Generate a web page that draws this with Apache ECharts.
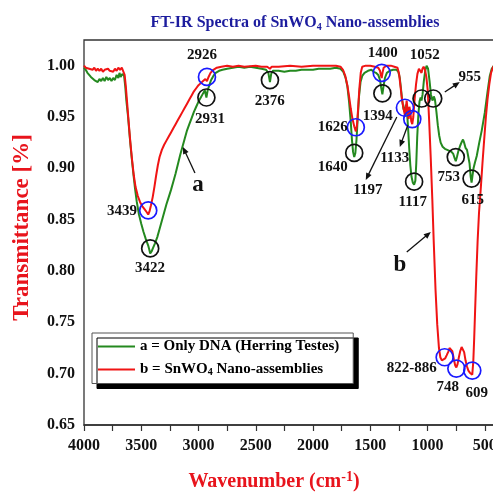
<!DOCTYPE html>
<html>
<head>
<meta charset="utf-8">
<script src="https://cdn.jsdelivr.net/npm/echarts@6/dist/echarts.min.js"></script>
<style>
  html, body { margin: 0; padding: 0; background: #fff; }
  #chart { width: 493px; height: 492px; }
</style>
</head>
<body>
<div id="chart"></div>
<script>
const SERIF = '"Liberation Serif", "Times New Roman", serif';

// Wavenumber (cm-1), transmittance pairs
const dnaSpectrum = [
  [4000,0.998],[3985,0.996],[3970,0.993],[3955,0.992],[3940,0.989],[3925,0.990],[3910,0.986],[3895,0.987],
  [3880,0.984],[3865,0.987],[3850,0.985],[3835,0.988],[3820,0.985],[3805,0.989],[3790,0.986],[3775,0.988],
  [3760,0.985],[3745,0.988],[3730,0.986],[3715,0.991],[3700,0.988],[3690,0.993],[3680,0.989],[3665,0.992],
  [3650,0.990],[3640,0.980],[3630,0.966],[3615,0.950],[3600,0.930],[3585,0.912],[3570,0.896],[3555,0.881],
  [3540,0.868],[3520,0.855],[3500,0.846],[3480,0.838],[3460,0.831],[3440,0.825],[3430,0.821],[3422,0.817],
  [3410,0.819],[3395,0.823],[3380,0.827],[3360,0.833],[3340,0.841],[3320,0.849],[3300,0.857],[3280,0.865],
  [3260,0.872],[3240,0.879],[3220,0.887],[3200,0.895],[3180,0.904],[3160,0.913],[3140,0.921],[3120,0.929],
  [3100,0.937],[3080,0.943],[3060,0.949],[3040,0.955],[3020,0.960],[3000,0.965],[2980,0.969],[2960,0.973],
  [2945,0.976],[2931,0.969],[2920,0.976],[2905,0.981],[2890,0.986],[2870,0.990],[2850,0.993],[2820,0.995],
  [2790,0.996],[2750,0.997],[2700,0.998],[2650,0.999],[2600,0.998],[2550,0.999],[2500,0.998],[2450,0.997],
  [2410,0.996],[2390,0.993],[2376,0.984],[2365,0.992],[2350,0.995],[2300,0.995],[2250,0.994],[2200,0.995],
  [2150,0.995],[2100,0.996],[2050,0.996],[2000,0.996],[1950,0.997],[1900,0.997],[1850,0.997],[1800,0.998],
  [1760,0.997],[1735,0.994],[1715,0.988],[1700,0.980],[1685,0.965],[1670,0.945],[1660,0.928],[1650,0.916],
  [1640,0.911],[1630,0.915],[1620,0.928],[1610,0.948],[1598,0.970],[1585,0.984],[1570,0.990],[1550,0.993],
  [1520,0.995],[1490,0.996],[1470,0.994],[1450,0.993],[1430,0.991],[1415,0.986],[1405,0.979],[1394,0.972],
  [1384,0.980],[1372,0.988],[1355,0.993],[1330,0.995],[1300,0.996],[1270,0.996],[1255,0.994],[1242,0.988],
  [1232,0.978],[1222,0.967],[1210,0.958],[1200,0.955],[1190,0.962],[1180,0.957],[1170,0.940],[1160,0.920],
  [1150,0.903],[1140,0.892],[1128,0.886],[1117,0.884],[1106,0.888],[1098,0.905],[1090,0.930],[1080,0.952],
  [1070,0.965],[1060,0.969],[1052,0.966],[1043,0.972],[1032,0.985],[1020,0.995],[1008,1.000],[995,0.997],
  [982,0.985],[970,0.972],[962,0.968],[955,0.966],[945,0.970],[935,0.967],[922,0.955],[910,0.942],
  [898,0.932],[885,0.925],[868,0.921],[848,0.919],[828,0.918],[808,0.917],[790,0.916],[775,0.914],
  [763,0.910],[753,0.907],[743,0.911],[730,0.917],[715,0.922],[700,0.926],[690,0.928],[680,0.925],
  [668,0.920],[655,0.918],[643,0.917],[633,0.905],[623,0.892],[615,0.886],[607,0.893],[598,0.900],
  [585,0.906],[570,0.912],[548,0.925],[526,0.937],[500,0.954],[487,0.965],[474,0.976],[456,0.990],
  [439,0.997],[420,1.000]
];

const snwo4Spectrum = [
  [4000,1.000],[3985,0.998],[3970,0.999],[3955,0.997],[3940,0.998],[3925,0.996],[3910,0.998],[3895,0.995],
  [3880,0.997],[3865,0.995],[3850,0.997],[3835,0.994],[3820,0.996],[3805,0.995],[3790,0.997],[3775,0.995],
  [3760,0.996],[3745,0.994],[3730,0.997],[3715,0.995],[3700,0.998],[3685,0.996],[3670,0.998],[3655,0.997],
  [3645,0.991],[3635,0.980],[3622,0.962],[3610,0.945],[3595,0.925],[3580,0.908],[3565,0.893],[3550,0.882],
  [3530,0.873],[3510,0.867],[3490,0.863],[3470,0.860],[3450,0.857],[3439,0.855],[3428,0.858],[3415,0.864],
  [3400,0.872],[3385,0.882],[3370,0.893],[3355,0.903],[3340,0.911],[3320,0.918],[3300,0.923],[3280,0.927],
  [3260,0.931],[3240,0.935],[3220,0.939],[3200,0.943],[3180,0.947],[3160,0.951],[3140,0.955],[3120,0.959],
  [3100,0.963],[3080,0.967],[3060,0.971],[3040,0.975],[3020,0.978],[3000,0.981],[2980,0.983],[2960,0.985],
  [2940,0.987],[2926,0.985],[2912,0.989],[2895,0.993],[2870,0.996],[2840,0.998],[2800,0.999],[2750,1.000],
  [2700,0.999],[2650,1.000],[2600,0.999],[2500,1.000],[2450,0.999],[2400,0.999],[2376,0.997],[2360,0.999],
  [2300,0.999],[2200,1.000],[2100,0.999],[2000,1.000],[1900,1.000],[1800,1.000],[1760,0.999],[1738,0.996],
  [1718,0.990],[1700,0.981],[1685,0.970],[1670,0.958],[1655,0.948],[1640,0.941],[1626,0.936],[1616,0.942],
  [1606,0.958],[1595,0.978],[1583,0.993],[1570,0.999],[1540,1.000],[1500,1.000],[1460,0.999],[1430,0.998],
  [1415,0.995],[1405,0.990],[1400,0.988],[1393,0.993],[1383,0.998],[1360,1.000],[1320,1.000],[1290,0.999],
  [1262,0.998],[1248,0.992],[1236,0.980],[1224,0.968],[1212,0.960],[1203,0.955],[1197,0.951],[1190,0.958],
  [1182,0.966],[1174,0.957],[1165,0.948],[1158,0.960],[1150,0.955],[1142,0.946],[1133,0.943],[1124,0.950],
  [1112,0.968],[1100,0.982],[1088,0.992],[1075,0.997],[1062,0.998],[1052,0.993],[1044,0.997],[1034,0.999],
  [1022,0.996],[1010,0.989],[998,0.976],[985,0.945],[972,0.911],[958,0.870],[946,0.830],[930,0.782],
  [915,0.748],[900,0.725],[888,0.716],[875,0.713],[860,0.712],[845,0.715],[832,0.718],[820,0.721],
  [808,0.725],[795,0.726],[783,0.722],[770,0.714],[758,0.708],[748,0.706],[738,0.709],[726,0.716],
  [714,0.722],[702,0.726],[692,0.727],[680,0.721],[668,0.713],[655,0.707],[643,0.703],[630,0.701],
  [620,0.700],[609,0.699],[600,0.712],[592,0.735],[584,0.762],[574,0.795],[562,0.830],[550,0.857],
  [535,0.880],[520,0.905],[505,0.928],[490,0.950],[475,0.968],[460,0.982],[445,0.993],[430,0.998],
  [420,1.000]
];

const seriesNames = ['a = Only DNA (Herring Testes)', 'b = SnWO4 Nano-assemblies'];
const xTickLabels = [4000, 3500, 3000, 2500, 2000, 1500, 1000, 500];
const yTickLabels = [0.65, 0.70, 0.75, 0.80, 0.85, 0.90, 0.95, 1.00];

// Band assignments: ring centre and label centre in (wavenumber, transmittance)
const peakRings = [
  { text: '3439', ring: [3439, 0.859], at: [3668, 0.858], kind: 'b' },
  { text: '3422', ring: [3422, 0.822], at: [3424, 0.803], kind: 'a' },
  { text: '2926', ring: [2926, 0.989], at: [2970, 1.010], kind: 'b' },
  { text: '2931', ring: [2931, 0.969], at: [2900, 0.948], kind: 'a' },
  { text: '2376', ring: [2376, 0.986], at: [2377, 0.965], kind: 'a' },
  { text: '1626', ring: [1626, 0.940], at: [1827, 0.940], kind: 'b' },
  { text: '1640', ring: [1640, 0.915], at: [1827, 0.901], kind: 'a' },
  { text: '1400', ring: [1400, 0.993], at: [1390, 1.012], kind: 'b' },
  { text: '1394', ring: [1394, 0.973], at: [1434, 0.951], kind: 'a' },
  { text: '1197', ring: [1197, 0.959], at: [1521, 0.879], kind: 'b' },
  { text: '1133', ring: [1133, 0.948], at: [1286, 0.910], kind: 'b' },
  { text: '1117', ring: [1117, 0.887], at: [1129, 0.867], kind: 'a' },
  { text: '1052', ring: [1052, 0.968], at: [1024, 1.010], kind: 'a' },
  { text: '955',  ring: [950, 0.968],  at: [631, 0.989],  kind: 'a' },
  { text: '753',  ring: [753, 0.911],  at: [814, 0.8916], kind: 'a' },
  { text: '615',  ring: [615, 0.890],  at: [605, 0.869],  kind: 'a' },
  { text: '822-886', ring: [850, 0.716], at: [1137, 0.7055], kind: 'b' },
  { text: '748',  ring: [748, 0.705],  at: [823, 0.687],  kind: 'b' },
  { text: '609',  ring: [609, 0.703],  at: [570, 0.681],  kind: 'b' }
];

const curveTags = [
  { text: 'a', at: [3005, 0.884] },
  { text: 'b', at: [1242, 0.806] }
];

const pointers = [
  { from: [3031, 0.8955], to: [3136, 0.9208] },
  { from: [1181, 0.8185], to: [971, 0.838] },
  { from: [1268, 0.950], to: [1539, 0.8886] },
  { from: [1172, 0.942], to: [1242, 0.9208] },
  { from: [849, 0.9743], to: [718, 0.984] }
];

const GREEN = '#24891f';
const RED = '#f01414';
const RING = { a: '#111111', b: '#1a1aff' };

const isTick = (list, v) => list.some(t => Math.abs(t - v) < 1e-6);

const chart = echarts.init(document.getElementById('chart'), null, { renderer: 'canvas' });

const option = {
  animation: false,
  backgroundColor: '#ffffff',
  title: {
    text: '{m|FT-IR Spectra of SnWO}{s|4}{m| Nano-assemblies}',
    left: 290,
    top: 9,
    textAlign: 'center',
    textStyle: {
      rich: {
        m: { fontFamily: SERIF, fontWeight: 'bold', fontSize: 16, color: '#1c1c9e', lineHeight: 18 },
        s: { fontFamily: SERIF, fontWeight: 'bold', fontSize: 10, color: '#1c1c9e', lineHeight: 6, verticalAlign: 'bottom' }
      }
    }
  },
  // the 0 end of the wavenumber axis lies past the right edge of the canvas
  grid: {
    left: 84, top: 40, width: 458, height: 385,
    containLabel: false,
    outerBoundsMode: 'none',
    show: true, borderColor: '#333', borderWidth: 1.3, backgroundColor: 'transparent'
  },
  legend: {
    orient: 'vertical',
    left: 92, top: 333,
    backgroundColor: '#ffffff',
    borderColor: '#555',
    borderWidth: 1,
    shadowColor: '#000',
    shadowBlur: 0,
    shadowOffsetX: 5,
    shadowOffsetY: 5,
    padding: [6, 14, 6, 6],
    itemGap: 8,
    itemWidth: 37,
    itemHeight: 2,
    icon: 'rect',
    data: seriesNames,
    formatter: name => name === seriesNames[1]
      ? '{t|b = SnWO}{s|4}{t| Nano-assemblies}'
      : '{t|' + name + '}',
    textStyle: {
      rich: {
        t: { fontFamily: SERIF, fontWeight: 'bold', fontSize: 15, color: '#000', lineHeight: 16 },
        s: { fontFamily: SERIF, fontWeight: 'bold', fontSize: 10, color: '#000', lineHeight: 6, verticalAlign: 'bottom' }
      }
    }
  },
  xAxis: {
    type: 'value',
    inverse: true,
    min: 0,
    max: 4000,
    interval: 250,
    name: '{t|Wavenumber (cm}{p|-1}{t|)}',
    nameLocation: 'middle',
    nameGap: 45,
    nameTextStyle: {
      padding: [0, 78, 0, 0],
      rich: {
        t: { fontFamily: SERIF, fontWeight: 'bold', fontSize: 20, color: '#e8141c', lineHeight: 24 },
        p: { fontFamily: SERIF, fontWeight: 'bold', fontSize: 14, color: '#e8141c', lineHeight: 14, verticalAlign: 'top' }
      }
    },
    axisLine: { show: true, lineStyle: { color: '#333', width: 1.5 } },
    axisTick: { show: true, inside: false, length: 6, lineStyle: { color: '#333', width: 1.2 } },
    axisLabel: {
      margin: 13,
      fontFamily: SERIF, fontWeight: 'bold', fontSize: 16, color: '#111',
      formatter: v => isTick(xTickLabels, v) ? String(v) : ''
    },
    splitLine: { show: false }
  },
  yAxis: {
    type: 'value',
    min: 0.65,
    max: 1.025,
    interval: 0.025,
    name: 'Transmittance [%]',
    nameLocation: 'middle',
    nameGap: 50,
    nameTextStyle: {
      fontFamily: SERIF, fontWeight: 'bold', fontSize: 23, color: '#e8141c',
      padding: [0, 0, 0, 10]
    },
    axisLine: { show: true, lineStyle: { color: '#333', width: 1.5 } },
    axisTick: { show: true, inside: false, length: 6, lineStyle: { color: '#333', width: 1.2 } },
    axisLabel: {
      margin: 9,
      fontFamily: SERIF, fontWeight: 'bold', fontSize: 16, color: '#111',
      formatter: v => isTick(yTickLabels, v) ? v.toFixed(2) : ''
    },
    splitLine: { show: false }
  },
  series: [
    {
      name: seriesNames[0], type: 'line', data: dnaSpectrum,
      symbol: 'none', showSymbol: false, smooth: false,
      lineStyle: { color: GREEN, width: 2 }, itemStyle: { color: GREEN }, z: 2
    },
    {
      name: seriesNames[1], type: 'line', data: snwo4Spectrum,
      symbol: 'none', showSymbol: false, smooth: false,
      lineStyle: { color: RED, width: 2 }, itemStyle: { color: RED }, z: 3
    }
  ]
};

chart.setOption(option);

// Annotation layer: rings, band labels and pointer arrows placed in data space
const toPx = p => chart.convertToPixel({ gridIndex: 0 }, p);
const textStyle = (text, size) => ({
  text, fill: '#111', fontFamily: SERIF, fontWeight: 'bold', fontSize: size,
  align: 'center', verticalAlign: 'middle'
});
const elements = [];

peakRings.forEach(p => {
  const c = toPx(p.ring);
  const t = toPx(p.at);
  elements.push({
    type: 'circle', z: 100, silent: true,
    shape: { cx: c[0], cy: c[1], r: 8.5 },
    style: { fill: 'none', stroke: RING[p.kind], lineWidth: 1.7 }
  });
  elements.push({ type: 'text', z: 100, silent: true, x: t[0], y: t[1], style: textStyle(p.text, 15) });
});

curveTags.forEach(c => {
  const t = toPx(c.at);
  elements.push({ type: 'text', z: 100, silent: true, x: t[0], y: t[1], style: textStyle(c.text, 23) });
});

pointers.forEach(a => {
  const p0 = toPx(a.from), p1 = toPx(a.to);
  const dx = p1[0] - p0[0], dy = p1[1] - p0[1];
  const len = Math.hypot(dx, dy);
  const ux = dx / len, uy = dy / len;
  const nx = -uy, ny = ux;
  const head = 7, half = 3;
  const bx = p1[0] - ux * head, by = p1[1] - uy * head;
  elements.push({
    type: 'line', z: 100, silent: true,
    shape: { x1: p0[0], y1: p0[1], x2: bx + ux * 1, y2: by + uy * 1 },
    style: { stroke: '#111', lineWidth: 1.3 }
  });
  elements.push({
    type: 'polygon', z: 100, silent: true,
    shape: { points: [[p1[0], p1[1]], [bx + nx * half, by + ny * half], [bx - nx * half, by - ny * half]] },
    style: { fill: '#111' }
  });
});

chart.setOption({ graphic: elements });
</script>
</body>
</html>
